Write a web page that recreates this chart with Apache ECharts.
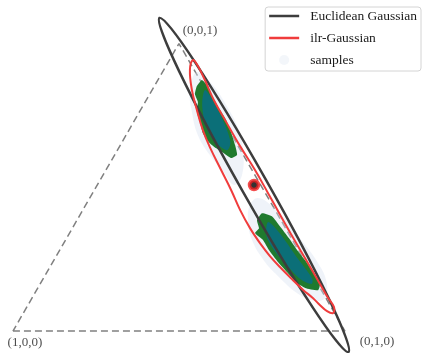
<!DOCTYPE html>
<html>
<head>
<meta charset="utf-8">
<script src="https://cdn.jsdelivr.net/npm/echarts@6/dist/echarts.min.js"></script>
<style>
  html, body { margin: 0; padding: 0; background: #fff; }
  #chart { width: 422px; height: 353px; }
</style>
</head>
<body>
<div id="chart"></div>
<script>
// simplex drawn in the plane: (1,0,0) -> (0,0), (0,1,0) -> (1,0), (0,0,1) -> (0.5, 0.866)
const vertexLabels = ["(1,0,0)", "(0,1,0)", "(0,0,1)"];
const vertexX = [0, 1, 0.5];
const vertexY = [0, 0, 0.866];

// Euclidean Gaussian contour (ellipse in the plane)
const euclidCenter = [0.726, 0.44];
const euclidSemiAxes = [0.578, 0.039];
const euclidAngle = -60.5;

// ilr-Gaussian contour
const ilrX = [0.542, 0.557, 0.578, 0.605, 0.642, 0.684, 0.729, 0.768, 0.807, 0.846, 0.883, 0.916, 0.946, 0.967, 0.964,
  0.946, 0.925, 0.904, 0.874, 0.840, 0.804, 0.774, 0.744, 0.714, 0.684, 0.657, 0.627, 0.593, 0.572, 0.554, 0.539, 0.533];
const ilrY = [0.816, 0.798, 0.756, 0.696, 0.630, 0.557, 0.485, 0.416, 0.346, 0.277, 0.214, 0.157, 0.105, 0.072, 0.054,
  0.060, 0.078, 0.099, 0.124, 0.157, 0.193, 0.226, 0.265, 0.310, 0.365, 0.425, 0.485, 0.554, 0.605, 0.666, 0.726, 0.786];

// mean marker
const meanPoint = [0.726, 0.44];

// sample clouds: faint halo, green spread, teal core (upper and lower cluster)
const haloUpperX = [0.554, 0.599, 0.642, 0.678, 0.693, 0.690, 0.666, 0.630, 0.593, 0.557, 0.539, 0.533];
const haloUpperY = [0.780, 0.744, 0.681, 0.611, 0.545, 0.470, 0.440, 0.485, 0.530, 0.590, 0.660, 0.726];
const haloLowerX = [0.738, 0.780, 0.828, 0.873, 0.913, 0.943, 0.940, 0.901, 0.852, 0.804, 0.759, 0.720, 0.708, 0.714];
const haloLowerY = [0.401, 0.377, 0.328, 0.268, 0.214, 0.154, 0.099, 0.093, 0.117, 0.160, 0.208, 0.274, 0.334, 0.380];

const greenUpperX = [0.569, 0.584, 0.599, 0.620, 0.642, 0.657, 0.669, 0.675, 0.657, 0.630, 0.611, 0.590, 0.572, 0.563, 0.554, 0.557, 0.548, 0.554];
const greenUpperY = [0.756, 0.741, 0.708, 0.672, 0.636, 0.599, 0.560, 0.530, 0.521, 0.539, 0.551, 0.569, 0.596, 0.630, 0.660, 0.690, 0.714, 0.738];
const tealUpperX = [0.578, 0.594, 0.612, 0.631, 0.646, 0.655, 0.645, 0.622, 0.600, 0.582, 0.573, 0.570];
const tealUpperY = [0.726, 0.708, 0.675, 0.639, 0.602, 0.566, 0.545, 0.557, 0.581, 0.614, 0.651, 0.690];

const greenLowerX = [0.750, 0.780, 0.804, 0.831, 0.858, 0.886, 0.910, 0.925, 0.919, 0.880, 0.852, 0.825, 0.798, 0.771, 0.753, 0.729, 0.741, 0.735];
const greenLowerY = [0.355, 0.346, 0.316, 0.280, 0.241, 0.205, 0.169, 0.142, 0.123, 0.130, 0.148, 0.178, 0.208, 0.244, 0.274, 0.295, 0.310, 0.334];
const tealLowerX = [0.768, 0.796, 0.823, 0.850, 0.877, 0.902, 0.899, 0.865, 0.835, 0.805, 0.778, 0.763];
const tealLowerY = [0.328, 0.304, 0.268, 0.229, 0.193, 0.157, 0.142, 0.157, 0.187, 0.220, 0.256, 0.289];

const SERIF = "'Liberation Serif', 'DejaVu Serif', serif";
const EUCLID_COLOR = "#3d3d3d";
const ILR_COLOR = "#f03c3c";
const SAMPLE_COLOR = "rgba(214, 224, 240, 0.4)";

const chart = echarts.init(document.getElementById("chart"), null, { renderer: "canvas" });

function polygonSeries(name, xs, ys, style, z, smooth) {
  return {
    type: "custom",
    name: name,
    z: z,
    silent: true,
    data: [[xs[0], ys[0]]],
    renderItem: (params, api) => ({
      type: "polygon",
      shape: {
        points: xs.map((x, i) => api.coord([x, ys[i]])),
        smooth: smooth,
      },
      style: style,
    }),
  };
}

const labelOffsets = [[12, 11], [32, 10], [21, -12.5]];
const lineIcon = "path://M0,0 M0,5.75 L30,5.75 L30,8.25 L0,8.25 Z M36,14";
const dotIcon = "path://M0,0 M10,7 A5,5 0 1,1 20,7 A5,5 0 1,1 10,7 Z M36,14";

chart.setOption({
  animation: false,
  backgroundColor: "#fff",
  grid: { left: 0, right: 0, top: 0, bottom: 0 },
  xAxis: { type: "value", min: -0.039, max: 1.232, show: false },
  yAxis: { type: "value", min: -0.066, max: 0.997, show: false },
  legend: {
    orient: "vertical",
    right: 1,
    top: 7,
    padding: [2, 4, 4, 4],
    itemWidth: 36,
    itemHeight: 14,
    itemGap: 8,
    selectedMode: false,
    backgroundColor: "#fff",
    borderColor: "#d4d4d4",
    borderWidth: 1,
    borderRadius: 3,
    textStyle: { fontFamily: SERIF, fontSize: 13.5, color: "#1a1a1a" },
    data: [
      { name: "Euclidean Gaussian", icon: lineIcon, itemStyle: { color: EUCLID_COLOR, borderWidth: 0 } },
      { name: "ilr-Gaussian", icon: lineIcon, itemStyle: { color: ILR_COLOR, borderWidth: 0 } },
      { name: "samples", icon: dotIcon, itemStyle: { color: "rgba(214, 224, 240, 0.3)", borderWidth: 0 } },
    ],
  },
  series: [
    {
      type: "line",
      name: "simplex",
      z: 1,
      silent: true,
      showSymbol: false,
      data: [0, 1, 2, 0].map((i) => [vertexX[i], vertexY[i]]),
      lineStyle: { color: "#808080", width: 1.5, type: [7, 4] },
    },
    polygonSeries("samples", haloUpperX, haloUpperY, { fill: SAMPLE_COLOR }, 2, 0.4),
    polygonSeries("samples", haloLowerX, haloLowerY, { fill: SAMPLE_COLOR }, 2, 0.4),
    polygonSeries("green", greenUpperX, greenUpperY, { fill: "#1f7a2e" }, 3, 0.15),
    polygonSeries("green", greenLowerX, greenLowerY, { fill: "#1f7a2e" }, 3, 0.15),
    polygonSeries("teal", tealUpperX, tealUpperY, { fill: "#0b6f78" }, 4, 0.3),
    polygonSeries("teal", tealLowerX, tealLowerY, { fill: "#0b6f78" }, 4, 0.3),
    {
      type: "custom",
      name: "Euclidean Gaussian",
      z: 5,
      silent: true,
      data: [euclidCenter],
      renderItem: (params, api) => {
        const c = api.coord(euclidCenter);
        const s = api.size(euclidSemiAxes);
        return {
          type: "ellipse",
          x: c[0],
          y: c[1],
          rotation: (euclidAngle * Math.PI) / 180,
          shape: { cx: 0, cy: 0, rx: s[0], ry: s[1] },
          style: { fill: "none", stroke: EUCLID_COLOR, lineWidth: 2.5 },
        };
      },
    },
    polygonSeries("ilr-Gaussian", ilrX, ilrY, { fill: "none", stroke: ILR_COLOR, lineWidth: 2 }, 6, 0.4),
    {
      type: "scatter",
      name: "mean",
      z: 7,
      silent: true,
      symbolSize: 9,
      data: [meanPoint],
      itemStyle: { color: "#000", borderColor: "#f02020", borderWidth: 3.5 },
    },
    {
      type: "scatter",
      name: "vertices",
      z: 8,
      silent: true,
      symbolSize: 0,
      data: vertexLabels.map((name, i) => ({
        name: name,
        value: [vertexX[i], vertexY[i]],
        label: { offset: labelOffsets[i] },
      })),
      label: {
        show: true,
        position: "inside",
        formatter: "{b}",
        fontFamily: SERIF,
        fontSize: 13,
        color: "#1a1a1a",
      },
    },
  ],
});
</script>
</body>
</html>
